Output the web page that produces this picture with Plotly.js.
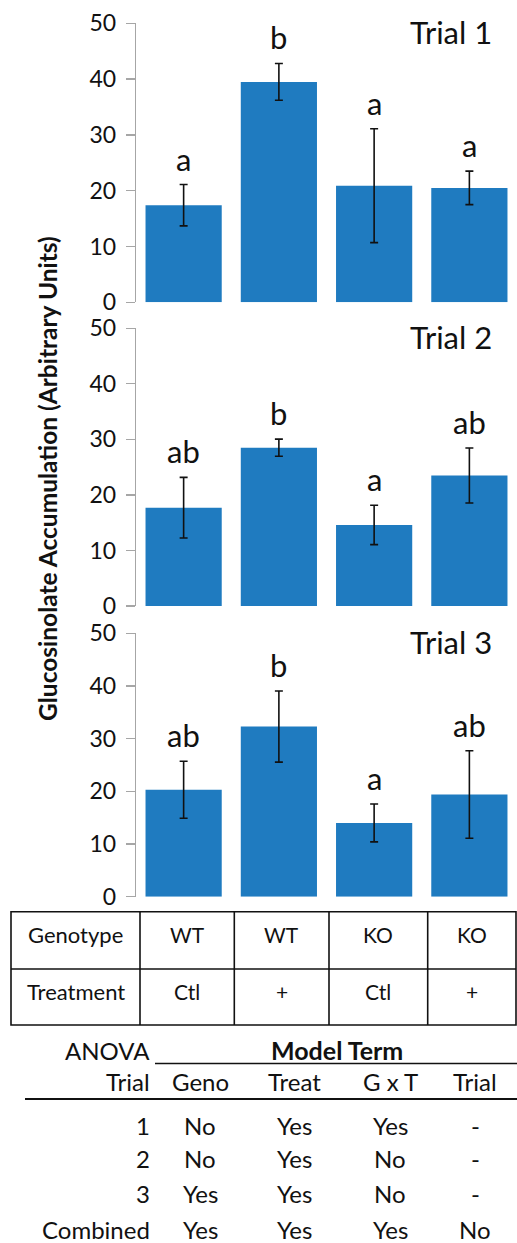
<!DOCTYPE html>
<html>
<head>
<meta charset="utf-8">
<script src="https://cdn.plot.ly/plotly-3.0.1.min.js"></script>
<style>html,body{margin:0;padding:0;background:#fff;}#chart{width:517px;height:1243px;}</style>
</head>
<body>
<div id="chart"></div>
<script>
// ---- data ----
const groups = ['WT Ctl', 'WT +', 'KO Ctl', 'KO +'];
const trialNames = ['Trial 1', 'Trial 2', 'Trial 3'];
const trial1Mean = [17.4, 39.5, 20.9, 20.5];
const trial1Err  = [3.7, 3.3, 10.2, 3.0];
const trial1Letters = ['a', 'b', 'a', 'a'];
const trial2Mean = [17.7, 28.5, 14.6, 23.5];
const trial2Err  = [5.45, 1.55, 3.55, 4.95];
const trial2Letters = ['ab', 'b', 'a', 'ab'];
const trial3Mean = [20.3, 32.3, 14.0, 19.4];
const trial3Err  = [5.4, 6.75, 3.6, 8.3];
const trial3Letters = ['ab', 'b', 'a', 'ab'];
const yTicks = [0, 10, 20, 30, 40, 50];
const yTitle = 'Glucosinolate Accumulation (Arbitrary Units)';

const designRowLabels = ['Genotype', 'Treatment'];
const genotype  = ['WT', 'WT', 'KO', 'KO'];
const treatment = ['Ctl', '+', 'Ctl', '+'];

const anovaCorner = 'ANOVA';
const anovaGroupHeader = 'Model Term';
const anovaRowHeader = 'Trial';
const anovaTerms = ['Geno', 'Treat', 'G x T', 'Trial'];
const anovaRows = ['1', '2', '3', 'Combined'];
const anovaGeno  = ['No', 'No', 'Yes', 'Yes'];
const anovaTreat = ['Yes', 'Yes', 'Yes', 'Yes'];
const anovaGxT   = ['Yes', 'No', 'No', 'Yes'];
const anovaTrial = ['-', '-', '-', 'No'];

// ---- layout helpers ----
const W = 517, H = 1243;
const X = px => px / W;
const Y = py => 1 - py / H;
const FONT = 'Lato, "Open Sans", sans-serif';
const BAR = '#1f7bc0';

const means = [trial1Mean, trial2Mean, trial3Mean];
const errs = [trial1Err, trial2Err, trial3Err];
const letters = [trial1Letters, trial2Letters, trial3Letters];
const panelPx = [[23.3, 302.3], [328.3, 606], [633.3, 896.7]];

const traces = [];
const layout = {
  width: W, height: H,
  margin: {l: 0, r: 0, t: 0, b: 0},
  paper_bgcolor: '#fff', plot_bgcolor: '#fff',
  showlegend: false,
  font: {family: FONT, color: '#111'},
  annotations: [], shapes: []
};

for (let p = 0; p < 3; p++) {
  const sfx = p === 0 ? '' : String(p + 1);
  traces.push({
    type: 'bar', x: groups, y: means[p],
    xaxis: 'x' + sfx, yaxis: 'y' + sfx,
    marker: {color: BAR, line: {width: 0}},
    error_y: {type: 'data', array: errs[p], visible: true, color: '#111', thickness: 1.6, width: 4},
    hoverinfo: 'skip'
  });
  layout['xaxis' + sfx] = {
    domain: [X(136), 1], anchor: 'y' + sfx,
    type: 'category', range: [-0.5, 3.5],
    showticklabels: false, ticks: '', showline: false, showgrid: false, zeroline: false
  };
  layout['yaxis' + sfx] = {
    domain: [Y(panelPx[p][1]), Y(panelPx[p][0])], anchor: 'x' + sfx,
    range: [0, 50], tickvals: yTicks, ticktext: yTicks.map(String),
    ticks: 'outside', ticklen: 9, tickwidth: 1.3, tickcolor: '#a6a6a6',
    showline: true, linecolor: '#a6a6a6', linewidth: 1.3,
    showgrid: false, zeroline: false,
    ticklabelstandoff: 5,
    tickfont: {family: FONT, size: 23, color: '#111'}
  };
  for (let i = 0; i < 4; i++) {
    layout.annotations.push({
      xref: 'x' + sfx, yref: 'y' + sfx, x: groups[i], y: means[p][i] + errs[p][i],
      text: letters[p][i], showarrow: false, yanchor: 'bottom', yshift: 5,
      font: {family: FONT, size: 31, color: '#111'}
    });
  }
  layout.annotations.push({
    xref: 'paper', yref: 'paper', x: X(494), y: Y(panelPx[p][0] + 9),
    text: trialNames[p], showarrow: false, xanchor: 'right', yanchor: 'middle',
    font: {family: FONT, size: 31, color: '#111'}
  });
}

// y-axis title
layout.annotations.push({
  xref: 'paper', yref: 'paper', x: X(48), y: Y(479), text: '<b>' + yTitle + '</b>',
  textangle: -90, showarrow: false, xanchor: 'center', yanchor: 'middle',
  font: {family: FONT, size: 24.5, color: '#111'}
});

// ---- design table ----
const lineBlack = {color: '#111', width: 1.6};
const tTop = 911.7, tMid = 969, tBot = 1025;
const colEdges = [11, 140, 234.3, 329, 427.7, 516];
layout.shapes.push({type: 'rect', xref: 'paper', yref: 'paper', x0: X(colEdges[0]), x1: X(colEdges[5]), y0: Y(tBot), y1: Y(tTop), line: lineBlack});
layout.shapes.push({type: 'line', xref: 'paper', yref: 'paper', x0: X(colEdges[0]), x1: X(colEdges[5]), y0: Y(tMid), y1: Y(tMid), line: lineBlack});
for (let c = 1; c < 5; c++) {
  layout.shapes.push({type: 'line', xref: 'paper', yref: 'paper', x0: X(colEdges[c]), x1: X(colEdges[c]), y0: Y(tBot), y1: Y(tTop), line: lineBlack});
}
const rowCenters = [935, 991.5];
const designRows = [genotype, treatment];
for (let r = 0; r < 2; r++) {
  layout.annotations.push({
    xref: 'paper', yref: 'paper', x: X((colEdges[0] + colEdges[1]) / 2), y: Y(rowCenters[r]),
    text: designRowLabels[r], showarrow: false, xanchor: 'center', yanchor: 'middle',
    font: {family: FONT, size: 22, color: '#111'}
  });
  for (let c = 0; c < 4; c++) {
    layout.annotations.push({
      xref: 'paper', yref: 'paper', x: X((colEdges[c + 1] + colEdges[c + 2]) / 2), y: Y(rowCenters[r]),
      text: designRows[r][c], showarrow: false, xanchor: 'center', yanchor: 'middle',
      font: {family: FONT, size: 21, color: '#111'}
    });
  }
}

// ---- ANOVA table ----
const aFont = {family: FONT, size: 24, color: '#111'};
const labelRight = 152;
const termCenters = [200, 294, 390, 475];
layout.annotations.push({xref: 'paper', yref: 'paper', x: X(labelRight), y: Y(1050), text: anovaCorner, showarrow: false, xanchor: 'right', yanchor: 'middle', font: aFont});
layout.annotations.push({xref: 'paper', yref: 'paper', x: X(337), y: Y(1050), text: '<b>' + anovaGroupHeader + '</b>', showarrow: false, xanchor: 'center', yanchor: 'middle', font: {family: FONT, size: 25, color: '#111'}});
layout.shapes.push({type: 'line', xref: 'paper', yref: 'paper', x0: X(155), x1: X(517), y0: Y(1063.5), y1: Y(1063.5), line: {color: '#111', width: 1.6}});
layout.annotations.push({xref: 'paper', yref: 'paper', x: X(labelRight), y: Y(1081.5), text: anovaRowHeader, showarrow: false, xanchor: 'right', yanchor: 'middle', font: aFont});
for (let c = 0; c < 4; c++) {
  layout.annotations.push({xref: 'paper', yref: 'paper', x: X(termCenters[c]), y: Y(1081.5), text: anovaTerms[c], showarrow: false, xanchor: 'center', yanchor: 'middle', font: aFont});
}
layout.shapes.push({type: 'line', xref: 'paper', yref: 'paper', x0: X(25), x1: X(517), y0: Y(1099), y1: Y(1099), line: {color: '#111', width: 2.2}});
const anovaCols = [anovaGeno, anovaTreat, anovaGxT, anovaTrial];
const anovaRowY = [1125, 1158.5, 1193.5, 1229];
for (let r = 0; r < 4; r++) {
  layout.annotations.push({xref: 'paper', yref: 'paper', x: X(labelRight), y: Y(anovaRowY[r]), text: anovaRows[r], showarrow: false, xanchor: 'right', yanchor: 'middle', font: aFont});
  for (let c = 0; c < 4; c++) {
    layout.annotations.push({xref: 'paper', yref: 'paper', x: X(termCenters[c]), y: Y(anovaRowY[r]), text: anovaCols[c][r], showarrow: false, xanchor: 'center', yanchor: 'middle', font: aFont});
  }
}

Plotly.newPlot('chart', traces, layout, {staticPlot: true, displayModeBar: false});
</script>
</body>
</html>
